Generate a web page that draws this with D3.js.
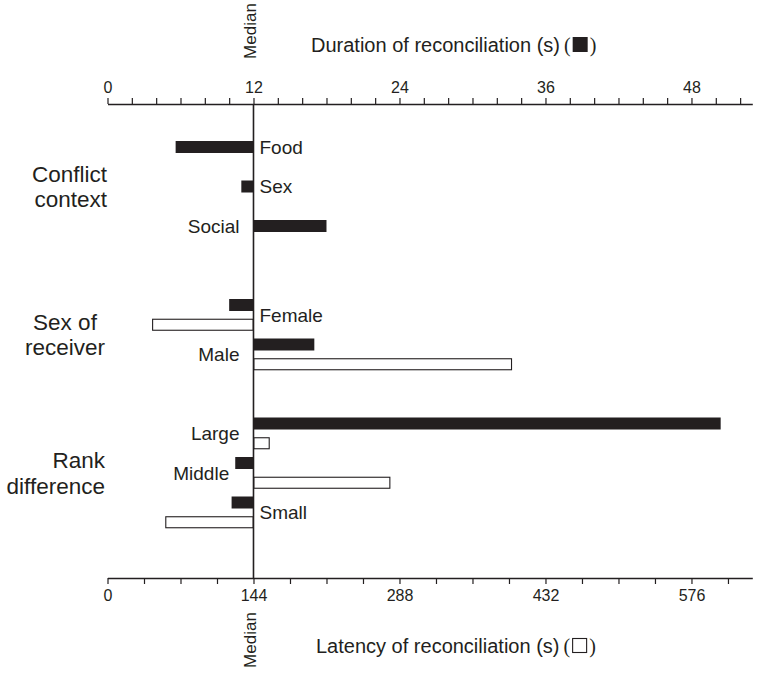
<!DOCTYPE html>
<html>
<head>
<meta charset="utf-8">
<script src="https://cdn.jsdelivr.net/npm/d3@7"></script>
<style>
  body { margin: 0; background: #fff; }
  svg { display: block; }
  text { font-family: "Liberation Sans", Arial, Helvetica, sans-serif; fill: #231f20; }
</style>
</head>
<body>
<svg id="chart" width="760" height="673"></svg>
<script>
// Median-centred bars: duration (filled) and latency (open) of reconciliation
const groupLines = [["Conflict", "context"], ["Sex of", "receiver"], ["Rank", "difference"]];
const categories = ["Food", "Sex", "Social", "Female", "Male", "Large", "Middle", "Small"];
const categoryGroup = [0, 0, 0, 1, 1, 2, 2, 2];
const durationValues = [5.6, 11.0, 18.0, 10.0, 17.0, 50.4, 10.5, 10.2];
const latencyValues = [null, null, null, 44, 399, 160, 279, 57];
const durationMedian = 12;
const latencyMedian = 144;
const durationTicks = [0, 12, 24, 36, 48];
const latencyTicks = [0, 144, 288, 432, 576];

const ink = "#231f20";
const svg = d3.select("#chart");

const left = 107.5, right = 752.3;
const topAxisY = 104, bottomAxisY = 578;

const xDur = d3.scaleLinear().domain([0, 53]).range([left, right]);
const xLat = d3.scaleLinear().domain([0, 636]).range([left, right]);

// each category takes two bar slots (duration, latency); groups are separated by two empty slots
const rows = [];
let slot = 0;
categories.forEach((c, i) => {
  if (i > 0 && categoryGroup[i] !== categoryGroup[i - 1]) slot += 2;
  rows.push({ name: c, group: categoryGroup[i], dur: durationValues[i], lat: latencyValues[i], slot });
  slot += 2;
});
const y = d3.scaleLinear().domain([0, 1]).range([147, 166.75]);
const barH = 12;

// axes
const topAxis = d3.axisTop(xDur)
  .tickValues(d3.range(0, 53, 2))
  .tickSize(6).tickSizeOuter(0).tickPadding(5)
  .tickFormat(d => durationTicks.includes(d) ? d : "");
const gTop = svg.append("g").attr("transform", `translate(0,${topAxisY})`).call(topAxis);

const bottomAxis = d3.axisBottom(xLat)
  .tickValues(d3.range(0, 637, 36))
  .tickSize(6).tickSizeOuter(0).tickPadding(6)
  .tickFormat(d => latencyTicks.includes(d) ? d : "");
const gBot = svg.append("g").attr("transform", `translate(0,${bottomAxisY})`).call(bottomAxis);

[gTop, gBot].forEach(g => {
  g.select(".domain").attr("stroke", ink).attr("stroke-width", 1.3);
  g.selectAll(".tick line").attr("stroke", ink).attr("stroke-width", 1.2);
  g.selectAll(".tick text").attr("font-size", 16).attr("fill", ink)
    .style("font-family", '"Liberation Sans", Arial, sans-serif');
});

const x0 = xDur(durationMedian);

// median line joining the two axes
svg.append("line")
  .attr("x1", x0).attr("x2", x0)
  .attr("y1", topAxisY).attr("y2", bottomAxisY)
  .attr("stroke", ink).attr("stroke-width", 1.6);

// duration bars
svg.append("g").selectAll("rect")
  .data(rows)
  .join("rect")
  .attr("x", d => Math.min(xDur(d.dur), x0))
  .attr("width", d => Math.abs(xDur(d.dur) - x0))
  .attr("y", d => y(d.slot) - barH / 2)
  .attr("height", barH)
  .attr("fill", ink);

// latency bars
const xl0 = xLat(latencyMedian);
svg.append("g").selectAll("rect")
  .data(rows.filter(d => d.lat !== null))
  .join("rect")
  .attr("x", d => Math.min(xLat(d.lat), xl0) + 0.5)
  .attr("width", d => Math.abs(xLat(d.lat) - xl0) - 1)
  .attr("y", d => y(d.slot + 1) - barH / 2 + 0.5)
  .attr("height", barH - 1)
  .attr("fill", "#fff")
  .attr("stroke", ink)
  .attr("stroke-width", 1.1);

// category labels, placed on the side free of the bars
svg.append("g").selectAll("text")
  .data(rows)
  .join("text")
  .each(function (d) {
    const ref = d.lat !== null ? d.lat < latencyMedian : d.dur < durationMedian;
    const t = d3.select(this);
    const ly = d.lat !== null ? (y(d.slot) + y(d.slot + 1)) / 2 : y(d.slot);
    if (ref) {
      t.attr("x", x0 + 6).attr("text-anchor", "start");
    } else {
      const leftEnd = Math.min(x0, xDur(d.dur));
      t.attr("x", Math.min(x0 - 14, leftEnd - 6)).attr("text-anchor", "end");
    }
    t.attr("y", ly).attr("dy", "0.36em");
  })
  .attr("font-size", 19)
  .text(d => d.name);

// group labels
const groupAnchor = ["end", "middle", "end"];
const groupX = [107, 65, 105];
groupLines.forEach((lines, gi) => {
  const members = rows.filter(r => r.group === gi);
  const last = members[members.length - 1];
  const top = y(members[0].slot), bot = y(last.slot + (last.lat !== null ? 1 : 0));
  const mid = (top + bot) / 2;
  const t = svg.append("text")
    .attr("x", groupX[gi])
    .attr("y", mid)
    .attr("text-anchor", groupAnchor[gi])
    .attr("font-size", 22.5);
  lines.forEach((ln, li) => {
    t.append("tspan")
      .attr("x", groupX[gi])
      .attr("y", mid + (li - 0.5) * 25.5 + 8)
      .text(ln);
  });
});

// "Median" markers
svg.append("text")
  .attr("transform", `translate(${x0 + 3},31) rotate(-90)`)
  .attr("text-anchor", "middle")
  .attr("font-size", 17)
  .text("Median");
svg.append("text")
  .attr("transform", `translate(${x0 + 3},640) rotate(-90)`)
  .attr("text-anchor", "middle")
  .attr("font-size", 17)
  .text("Median");

// axis titles with swatch keys
function axisTitle(label, tx, ty, filled) {
  const t = svg.append("text").attr("x", tx).attr("y", ty).attr("font-size", 20).text(label);
  const w = t.node().getComputedTextLength();
  const serif = '"Liberation Serif", "Times New Roman", serif';
  const p1 = svg.append("text").attr("x", tx + w + 4).attr("y", ty)
    .attr("font-size", 20).style("font-family", serif).text("(");
  const pw = p1.node().getComputedTextLength();
  const sx = tx + w + 4 + pw + 2;
  const s = 15;
  svg.append("rect")
    .attr("x", sx + (filled ? 0 : 0.5)).attr("y", ty - s + (filled ? 0 : 0.5))
    .attr("width", filled ? s : s - 1).attr("height", filled ? s : s - 1)
    .attr("fill", filled ? ink : "#fff")
    .attr("stroke", filled ? "none" : ink).attr("stroke-width", 1.1);
  svg.append("text").attr("x", sx + s + 2).attr("y", ty)
    .attr("font-size", 20).style("font-family", serif).text(")");
}
axisTitle("Duration of reconciliation (s)", 311, 52, true);
axisTitle("Latency of reconciliation (s)", 316, 653, false);
</script>
</body>
</html>
